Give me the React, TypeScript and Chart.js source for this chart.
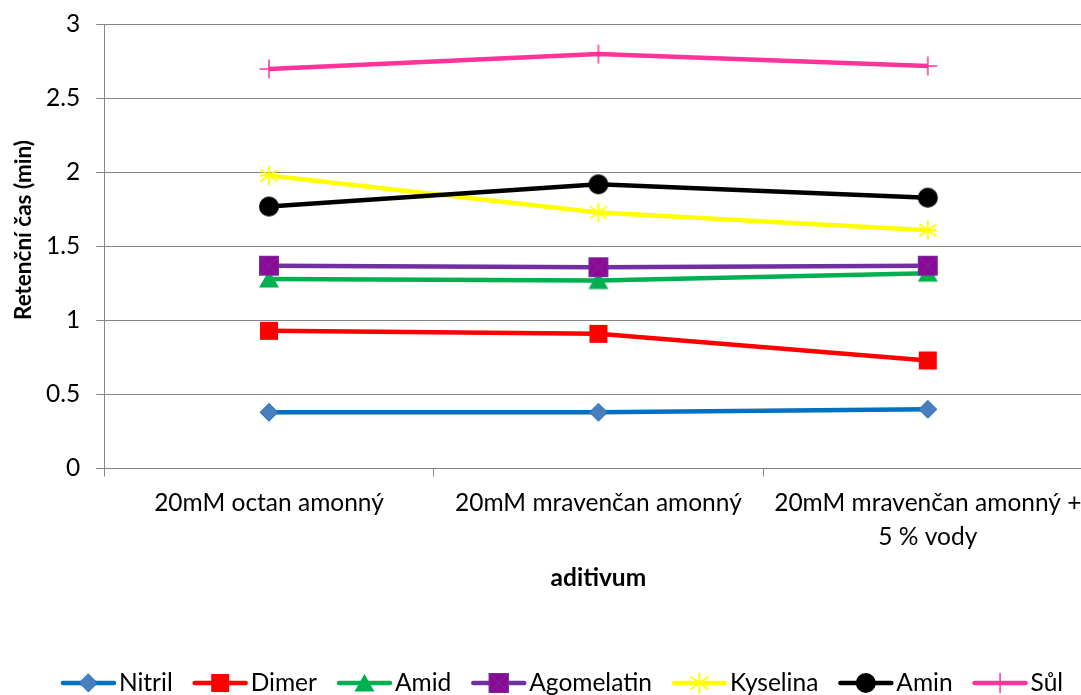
import React, { useEffect, useRef } from "react";
import { Chart, registerables } from "chart.js";

Chart.register(...registerables);

const categories: (string | string[])[] = [
  "20mM octan amonný",
  "20mM mravenčan amonný",
  ["20mM mravenčan amonný +", "5 % vody"],
];

const nitril = [0.38, 0.38, 0.4];
const dimer = [0.93, 0.91, 0.73];
const amid = [1.28, 1.27, 1.32];
const agomelatin = [1.37, 1.36, 1.37];
const kyselina = [1.98, 1.73, 1.61];
const amin = [1.77, 1.92, 1.83];
const sul = [2.7, 2.8, 2.72];

const seriesNames = ["Nitril", "Dimer", "Amid", "Agomelatin", "Kyselina", "Amin", "Sůl"];
const seriesValues = [nitril, dimer, amid, agomelatin, kyselina, amin, sul];
const seriesColors = ["#0070C0", "#FF0000", "#00B050", "#7030A0", "#FFFF00", "#000000", "#FF3399"];
const seriesMarkers = ["diamond", "square", "triangle", "xsquare", "star", "circle", "plus"];

const yMin = 0;
const yMax = 3;
const yStep = 0.5;
const yTickLabels = ["0", "0.5", "1", "1.5", "2", "2.5", "3"];

const yTitle = "Retenční čas (min)";
const xTitle = "aditivum";

const FONT = "Lato, 'Open Sans', sans-serif";
const GRID = "#868686";

function drawMarker(ctx: CanvasRenderingContext2D, kind: string, x: number, y: number) {
  ctx.save();
  ctx.translate(x, y);
  ctx.lineJoin = "miter";
  switch (kind) {
    case "diamond":
      ctx.beginPath();
      ctx.moveTo(0, -9);
      ctx.lineTo(9, 0);
      ctx.lineTo(0, 9);
      ctx.lineTo(-9, 0);
      ctx.closePath();
      ctx.fillStyle = "#4A7DBB";
      ctx.fill();
      ctx.strokeStyle = "#1C72C4";
      ctx.lineWidth = 1;
      ctx.stroke();
      break;
    case "square":
      ctx.fillStyle = "#FF0000";
      ctx.fillRect(-9, -9, 18, 18);
      break;
    case "triangle":
      ctx.beginPath();
      ctx.moveTo(0, -9);
      ctx.lineTo(10, 8.5);
      ctx.lineTo(-10, 8.5);
      ctx.closePath();
      ctx.fillStyle = "#00B050";
      ctx.fill();
      break;
    case "xsquare":
      ctx.fillStyle = "#8E0896";
      ctx.fillRect(-10, -10, 20, 20);
      ctx.strokeStyle = "#7030A0";
      ctx.lineWidth = 1;
      ctx.strokeRect(-9.5, -9.5, 19, 19);
      ctx.beginPath();
      ctx.moveTo(-9.5, -9.5);
      ctx.lineTo(9.5, 9.5);
      ctx.moveTo(9.5, -9.5);
      ctx.lineTo(-9.5, 9.5);
      ctx.stroke();
      break;
    case "star":
      ctx.strokeStyle = "#FFFF00";
      ctx.lineWidth = 2;
      ctx.beginPath();
      ctx.moveTo(0, -9.5);
      ctx.lineTo(0, 9.5);
      ctx.moveTo(-8.5, -6);
      ctx.lineTo(8.5, 6);
      ctx.moveTo(8.5, -6);
      ctx.lineTo(-8.5, 6);
      ctx.moveTo(-9, 0);
      ctx.lineTo(9, 0);
      ctx.stroke();
      break;
    case "circle":
      ctx.beginPath();
      ctx.arc(0, 0, 10, 0, Math.PI * 2);
      ctx.fillStyle = "#000000";
      ctx.fill();
      break;
    case "plus":
      ctx.strokeStyle = "#FF3399";
      ctx.lineWidth = 1.5;
      ctx.beginPath();
      ctx.moveTo(0, -9.5);
      ctx.lineTo(0, 9.5);
      ctx.moveTo(-9.5, 0);
      ctx.lineTo(9.5, 0);
      ctx.stroke();
      break;
  }
  ctx.restore();
}

function markerCanvas(kind: string): HTMLCanvasElement {
  const c = document.createElement("canvas");
  c.width = 24;
  c.height = 24;
  const ctx = c.getContext("2d")!;
  drawMarker(ctx, kind, 12, 12);
  return c;
}

const legendPlugin = {
  id: "excelLegend",
  afterDraw(chart: any) {
    const ctx: CanvasRenderingContext2D = chart.ctx;
    ctx.save();
    ctx.font = `24.5px ${FONT}`;
    const lineLen = 55;
    const textGap = 3;
    const itemGap = 20;
    const widths = seriesNames.map((n) => ctx.measureText(n).width);
    const total =
      widths.reduce((a, w) => a + lineLen + textGap + w, 0) + itemGap * (seriesNames.length - 1);
    let x = 562 - total / 2;
    const y = 683;
    seriesNames.forEach((name, i) => {
      ctx.strokeStyle = seriesColors[i];
      ctx.lineWidth = 4.5;
      ctx.lineCap = "round";
      ctx.beginPath();
      ctx.moveTo(x + 2, y);
      ctx.lineTo(x + lineLen - 2, y);
      ctx.stroke();
      drawMarker(ctx, seriesMarkers[i], x + lineLen / 2, y);
      ctx.fillStyle = "#000000";
      ctx.textAlign = "left";
      ctx.textBaseline = "middle";
      ctx.fillText(name, x + lineLen + textGap, y);
      x += lineLen + textGap + widths[i] + itemGap;
    });

    // y axis title
    ctx.save();
    ctx.translate(24, 230);
    ctx.rotate(-Math.PI / 2);
    ctx.font = `bold 22.5px ${FONT}`;
    ctx.textAlign = "center";
    ctx.textBaseline = "middle";
    ctx.fillStyle = "#000000";
    ctx.fillText(yTitle, 0, 0);
    ctx.restore();

    ctx.restore();
  },
};

export default function App() {
  const ref = useRef<HTMLCanvasElement | null>(null);

  useEffect(() => {
    if (!ref.current) return;
    const datasets = seriesNames.map((name, i) => ({
      label: name,
      data: seriesValues[i],
      borderColor: seriesColors[i],
      backgroundColor: seriesColors[i],
      borderWidth: 4.5,
      pointStyle: markerCanvas(seriesMarkers[i]) as any,
      pointRadius: 10,
      pointHoverRadius: 10,
      tension: 0,
      order: seriesNames.length - i,
    }));

    const chart = new Chart(ref.current, {
      type: "line",
      data: { labels: categories as any, datasets },
      options: {
        animation: false,
        responsive: true,
        maintainAspectRatio: false,
        layout: { padding: { left: 0, top: 24.5, right: 17.5, bottom: 96.5 } },
        plugins: {
          legend: { display: false },
          tooltip: { enabled: false },
          title: { display: false },
        },
        scales: {
          x: {
            type: "category",
            offset: true,
            grid: {
              display: true,
              drawOnChartArea: false,
              offset: true,
              tickLength: 8,
              color: GRID,
              lineWidth: 1,
            },
            border: { display: true, color: GRID, width: 1 },
            ticks: {
              color: "#000000",
              font: { family: FONT, size: 24.5, lineHeight: 1.4 },
              padding: 9,
              maxRotation: 0,
              minRotation: 0,
              autoSkip: false,
            },
            title: {
              display: true,
              text: xTitle,
              color: "#000000",
              font: { family: FONT, size: 24.5, weight: "bold", lineHeight: 1.2 },
              padding: { top: 0, bottom: 6 },
            },
            afterFit: (scale: any) => {
              scale.height = 130;
              scale.paddingLeft = 0;
              scale.paddingRight = 0;
            },
          },
          y: {
            min: yMin,
            max: yMax,
            ticks: {
              stepSize: yStep,
              color: "#000000",
              font: { family: FONT, size: 24.5 },
              padding: 16,
              callback: (_v: any, i: number) => yTickLabels[i],
            },
            grid: { color: GRID, lineWidth: 1, tickLength: 8 },
            border: { display: true, color: GRID, width: 1 },
            title: { display: false },
            afterFit: (scale: any) => {
              scale.width = 104.3;
              scale.paddingTop = 0;
              scale.paddingBottom = 0;
            },
          },
        },
      },
      plugins: [legendPlugin],
    });
    return () => chart.destroy();
  }, []);

  return (
    <div
      style={{
        position: "fixed",
        left: 0,
        top: 0,
        width: 1081,
        height: 695,
        overflow: "hidden",
        background: "#ffffff",
      }}
    >
      <div style={{ position: "relative", width: 1110, height: 695 }}>
        <canvas ref={ref} />
      </div>
    </div>
  );
}
